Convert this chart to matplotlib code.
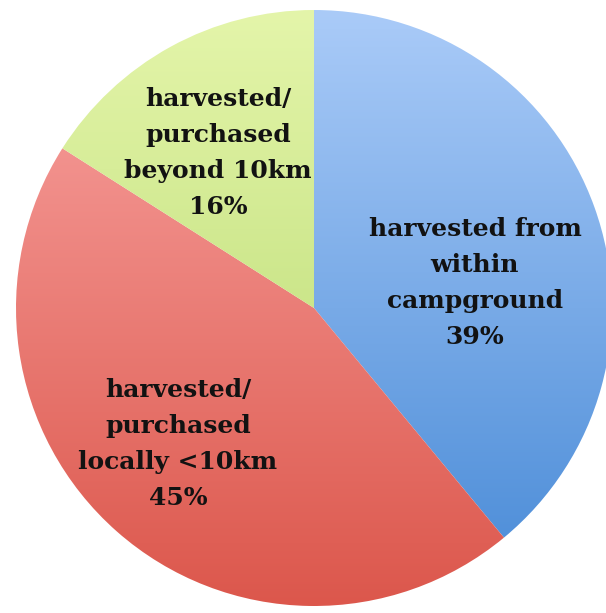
import numpy as np
import matplotlib.pyplot as plt
from matplotlib.colors import LinearSegmentedColormap

# slice data (clockwise from 12 o'clock)
labels = ["harvested from\nwithin\ncampground\n39%",
          "harvested/\npurchased\nlocally <10km\n45%",
          "harvested/\npurchased\nbeyond 10km\n16%"]
shares = [39, 45, 16]
# top / bottom colours of each slice's vertical gradient
tops = ["#aacbf8", "#f9a4a2", "#e4f5aa"]
bottoms = ["#4689d6", "#dc574c", "#b3d76a"]
label_pos = [(475, 283), (178, 444), (218, 153)]

W, H = 606, 613
cx, cy, r = 314, 308, 298

fig = plt.figure(figsize=(W / 100, H / 100), dpi=100)
ax = fig.add_axes([0, 0, 1, 1])

wedges, _ = ax.pie(shares, startangle=90, counterclock=False,
                   center=(cx, H - cy), radius=r, frame=True,
                   wedgeprops=dict(facecolor="none", edgecolor="none"))

grad = np.linspace(0, 1, 256).reshape(-1, 1)
extent = (cx - r, cx + r, H - cy - r, H - cy + r)
for w, c0, c1 in zip(wedges, tops, bottoms):
    cmap = LinearSegmentedColormap.from_list("g", [c0, c1])
    im = ax.imshow(grad, cmap=cmap, extent=extent, aspect="auto",
                   origin="upper", interpolation="bilinear")
    im.set_clip_path(w)

for txt, (x, y) in zip(labels, label_pos):
    ax.text(x, H - y, txt, ha="center", va="center", fontsize=18,
            fontweight="bold", family="DejaVu Serif", color="#121212",
            linespacing=1.62)

ax.set_xlim(0, W)
ax.set_ylim(0, H)
ax.set_aspect("auto")
ax.axis("off")

fig.savefig("out.png", dpi=100, facecolor="white")
